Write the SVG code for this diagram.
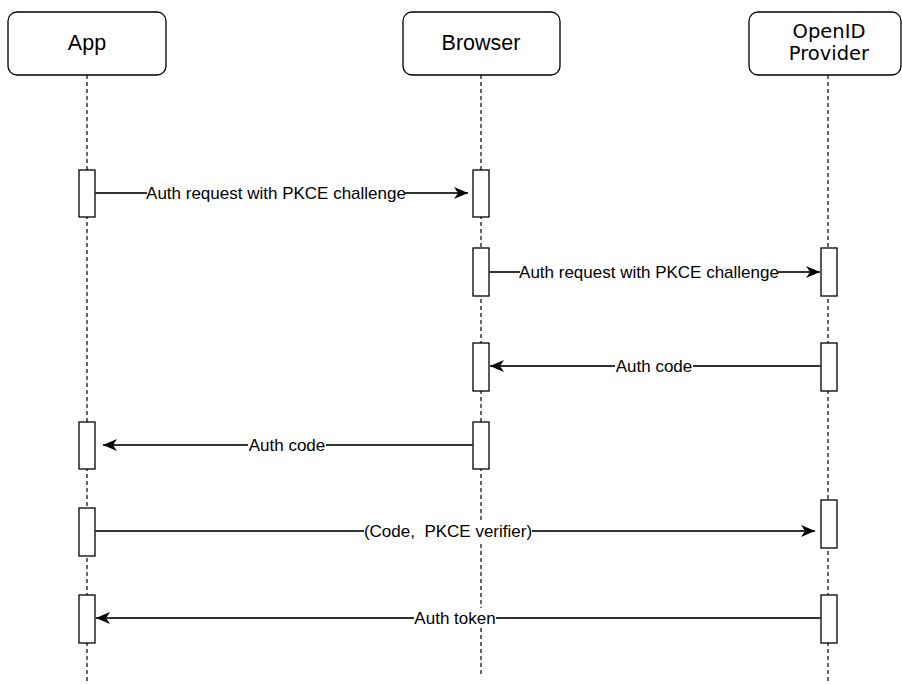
<svg xmlns="http://www.w3.org/2000/svg" width="902" height="684" viewBox="0 0 902 684">
<style>
.head{fill:#fff;stroke:#000;stroke-width:1.3}
.life{stroke:#000;stroke-width:1.2;stroke-dasharray:4 3;fill:none}
.act{fill:#fff;stroke:#000;stroke-width:1.3}
.msg{stroke:#333;stroke-width:1.8;fill:none;marker-end:url(#arr)}
.bg{fill:#fff}
.lbl{font-family:"Liberation Sans",Arial,sans-serif;font-size:17px;fill:#000;text-anchor:middle}
.ht{font-family:"Liberation Sans",Arial,sans-serif;font-size:21.5px;fill:#000;text-anchor:middle}
.ht2{font-family:"DejaVu Sans",Verdana,sans-serif;font-size:19.5px;fill:#000;text-anchor:middle}
</style>
<defs>
<marker id="arr" markerUnits="userSpaceOnUse" markerWidth="16" markerHeight="12" refX="14" refY="6" orient="auto">
<path d="M0,0 L14,6 L0,12 L4,6 z" fill="#000"/>
</marker>
</defs>
<rect width="902" height="684" fill="#fff"/>
<g id="lifelines">
<line class="life" x1="87" y1="75" x2="87" y2="684"/>
<line class="life" x1="481" y1="75" x2="481" y2="675"/>
<line class="life" x1="828" y1="75" x2="828" y2="684"/>
</g>
<g id="app"><rect class="head" x="8" y="12" width="158" height="63" rx="9"/><text class="ht" x="87" y="50">App</text></g>
<g id="browser"><rect class="head" x="403" y="12" width="157" height="63" rx="9"/><text class="ht" x="481" y="50">Browser</text></g>
<g id="openid"><rect class="head" x="749" y="12" width="152" height="63" rx="9"/><text class="ht2" x="829" y="38">OpenID</text><text class="ht2" x="829" y="60">Provider</text></g>
<g id="activations">
<rect class="act" x="79" y="170" width="16" height="47"/>
<rect class="act" x="473" y="170" width="16" height="47"/>
<rect class="act" x="473" y="248" width="16" height="48"/>
<rect class="act" x="821" y="248" width="16" height="48"/>
<rect class="act" x="473" y="343" width="16" height="48"/>
<rect class="act" x="821" y="343" width="16" height="48"/>
<rect class="act" x="79" y="422" width="16" height="47"/>
<rect class="act" x="473" y="422" width="16" height="47"/>
<rect class="act" x="79" y="508" width="16" height="48"/>
<rect class="act" x="821" y="500" width="16" height="48"/>
<rect class="act" x="79" y="595" width="16" height="48"/>
<rect class="act" x="821" y="595" width="16" height="48"/>
</g>
<g id="connectors">
<line class="msg" x1="95" y1="193" x2="468" y2="193"/>
<line class="msg" x1="489" y1="272" x2="820" y2="272"/>
<line class="msg" x1="821" y1="366" x2="490" y2="366"/>
<line class="msg" x1="473" y1="445" x2="103" y2="445"/>
<line class="msg" x1="95" y1="531" x2="815" y2="531"/>
<line class="msg" x1="821" y1="618" x2="96" y2="618"/>
</g>
<g id="labels">
<rect class="bg" x="147" y="183" width="258" height="20"/><text class="lbl" x="276" y="199">Auth request with PKCE challenge</text>
<rect class="bg" x="520" y="262" width="258" height="20"/><text class="lbl" x="649" y="278">Auth request with PKCE challenge</text>
<rect class="bg" x="615" y="356" width="78" height="20"/><text class="lbl" x="654" y="372">Auth code</text>
<rect class="bg" x="248" y="435" width="78" height="20"/><text class="lbl" x="287" y="451">Auth code</text>
<rect class="bg" x="364" y="521" width="168" height="20"/><text class="lbl" x="448" y="537" xml:space="preserve">(Code,  PKCE verifier)</text>
<rect class="bg" x="414" y="608" width="82" height="20"/><text class="lbl" x="455" y="624">Auth token</text>
</g>
</svg>
